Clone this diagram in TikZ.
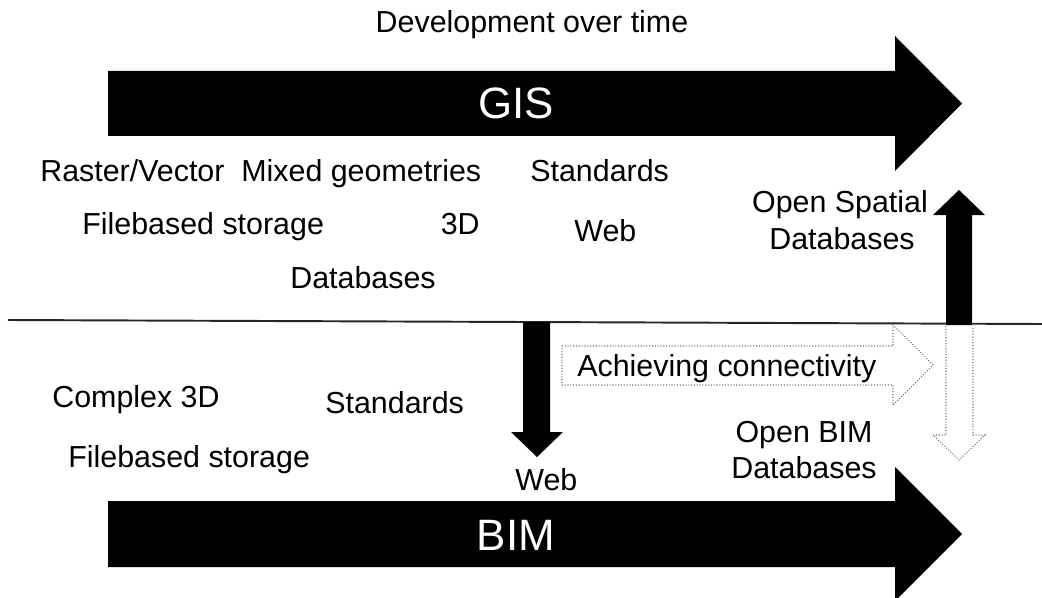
\documentclass[tikz,border=0pt]{standalone}
\usepackage{fontspec}
\setsansfont{Liberation Sans}

\tikzset{
  lbl/.style={inner sep=0pt, font=\sffamily\fontsize{17.3}{20}\selectfont},
  biglbl/.style={inner sep=0pt, text=white, font=\sffamily\fontsize{25}{28}\selectfont},
  blockarrow/.style={fill=black},
  ghostarrow/.style={draw=black!55, densely dotted, line width=0.6pt},
}

\begin{document}
\begin{tikzpicture}[x=0.02cm, y=-0.02cm]
        \useasboundingbox (0,0) rectangle (1042,598);
        \def\tail{108}
        \def\base{895}
        \def\tip{962}

        % title
        \node[lbl, anchor=base] (title) at (532,33) {Development over time};

        % GIS arrow
        \fill[blockarrow] (\tail,71) -- (\base,71) -- (\base,36) -- (\tip,103.5) -- (\base,171) -- (\base,136) -- (\tail,136) -- cycle;
        \node[biglbl, anchor=base] (gis) at (516,119) {GIS};

        % BIM arrow
        \fill[blockarrow] (\tail,501) -- (\base,501) -- (\base,467) -- (\tip,534) -- (\base,601) -- (\base,567) -- (\tail,567) -- cycle;
        \node[biglbl, anchor=base] (bim) at (516,550) {BIM};

        % GIS side
        \node[lbl, anchor=base west] (raster) at (40,182) {Raster/Vector};
        \node[lbl, anchor=base west] (mixed) at (241,182) {Mixed geometries};
        \node[lbl, anchor=base west] (gisstd) at (530,182) {Standards};
        \node[lbl, anchor=base west] (gisfile) at (82,235) {Filebased storage};
        \node[lbl, anchor=base east] (threed) at (480,235) {3D};
        \node[lbl, anchor=base west] (gisweb) at (574,241) {Web};
        \node[lbl, anchor=base west] (gisdb) at (290,288) {Databases};
        \node[lbl, anchor=base] (openspatial) at (840,213) {Open Spatial};
        \node[lbl, anchor=base] (spatialdb) at (842,250) {Databases};

        % divider
        \draw[line width=1.1pt, black!85] (8,320) -- (1042,324);

        % BIM side
        \node[lbl, anchor=base west] (complex) at (52,407) {Complex 3D};
        \node[lbl, anchor=base west] (bimstd) at (325,413) {Standards};
        \node[lbl, anchor=base west] (bimfile) at (68,467) {Filebased storage};
        \node[lbl, anchor=base west] (bimweb) at (515,490) {Web};
        \node[lbl, anchor=base] (openbim) at (804,442) {Open BIM};
        \node[lbl, anchor=base] (bimdb) at (804,478) {Databases};

        % web arrow down
        \fill[blockarrow] (523,322) -- (523,432) -- (511,432) -- (537,457) -- (563,432) -- (550,432) -- (550,322) -- cycle;

        % open spatial arrow up
        \fill[blockarrow] (946,325) -- (946,215) -- (933,215) -- (959,190) -- (985,215) -- (972,215) -- (972,325) -- cycle;

        % dotted arrows
        \draw[ghostarrow] (562,346) -- (893,346) -- (893,325) -- (933,365) -- (893,405) -- (893,385) -- (562,385) -- cycle;
        \node[lbl, anchor=base west] (connect) at (577,376) {Achieving connectivity};
        \draw[ghostarrow] (946,326) -- (946,435) -- (933,435) -- (959,460) -- (985,435) -- (973,435) -- (973,326);
    \end{tikzpicture}
\end{document}
